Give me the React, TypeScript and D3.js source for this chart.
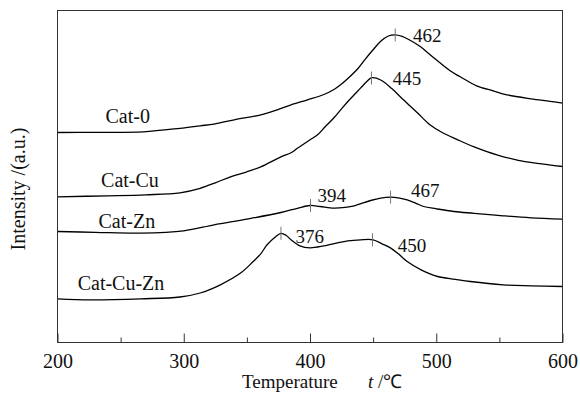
import * as d3 from 'd3';
import { useRef, useEffect } from 'react';

// temperature (°C) / intensity (a.u.)
const cat0: [number, number][] = [
  [200, 210], [230, 210.2], [268, 210.7], [297, 214.2], [313, 216.7], [324, 218.4],
  [340, 222.7], [361, 227.7], [375, 233.2], [385, 237.7], [398, 242.7], [411, 248],
  [419, 253], [424, 257.5], [430, 264], [438, 274], [444, 283.7], [450, 292.7],
  [456, 301.2], [462, 306.5], [467, 307.7], [473, 306.2], [480, 301.7], [487, 296.2],
  [498, 284.7], [511, 271.7], [519, 265.7], [532, 256.7], [545, 251.7], [556, 247.7],
  [575, 243.7], [590, 241.2], [600, 239.4],
];
const catCu: [number, number][] = [
  [200, 145.7], [240, 146.7], [270, 147.7], [297, 149.7], [313, 154.2], [325, 159.7],
  [337, 165.7], [350, 170.7], [361, 175.7], [377, 185.7], [385, 189.7], [390, 194.2],
  [400, 202.7], [406, 207.7], [412, 215.7], [419, 224.7], [425, 233.7], [430, 241],
  [435, 247.7], [440, 254.4], [445, 261], [449, 264.8], [456, 262.5], [465, 253.7],
  [474, 242.7], [485, 229.7], [495, 217.7], [505, 209.7], [517, 202.7], [530, 195.7],
  [548, 187.7], [565, 182.2], [580, 179.2], [600, 176],
];
const catZn: [number, number][] = [
  [200, 111], [230, 110.2], [266, 109.4], [300, 111.7], [324, 117.7], [350, 123.4],
  [377, 130], [390, 134.2], [400, 137], [408, 136], [419, 134.4], [428, 135.2],
  [435, 136.7], [448, 142], [456, 144.4], [464, 145.4], [470, 144.7], [477, 142.7],
  [484, 139.2], [490, 136], [500, 133.7], [514, 131], [530, 129.2], [553, 126.7],
  [575, 124.7], [600, 123.4],
];
const catCuZn: [number, number][] = [
  [200, 43.7], [226, 42.7], [266, 43.7], [297, 45.5], [313, 49.5], [329, 57.7],
  [345, 69.4], [355, 81], [361, 88.7], [366, 97.7], [373, 106], [377, 109.2],
  [381, 107.2], [385, 102.7], [392, 96.7], [400, 94.7], [411, 96.7], [420, 99.2],
  [430, 101.7], [440, 102.7], [450, 102.7], [457, 98.7], [464, 94.4], [470, 88.7],
  [477, 81], [488, 72.7], [501, 66], [515, 63.2], [527, 61], [553, 57.7],
  [575, 56.7], [600, 56],
];

const seriesNames = ['Cat-0', 'Cat-Cu', 'Cat-Zn', 'Cat-Cu-Zn'];
const seriesData = [cat0, catCu, catZn, catCuZn];
const seriesLabelAt: [number, number][] = [[238, 219.5], [234.5, 155.5], [232.5, 114.5], [216, 52.5]];

// peak markers: where the mark sits, and the text printed beside it
const peakSeries = [0, 1, 2, 2, 3, 3];
const peakTemps = [467.5, 448.7, 400.4, 463.8, 377, 449.5];
const peakLabels = ['462', '445', '394', '467', '376', '450'];
const peakLabelAt: [number, number][] = [
  [481.5, 300.5], [465.5, 257.5], [406, 140.5], [480, 145.5], [388.5, 99.5], [469.5, 90.5],
];

const xTicks = [200, 300, 400, 500, 600];
const xMinorTicks = [250, 350, 450, 550];

const W = 580;
const H = 395;
const margin = { top: 10.5, right: 17.5, bottom: 52.5, left: 57.5 };
const font = '"Liberation Serif", "Times New Roman", serif';

const App: React.FC = () => {
  const ref = useRef<SVGSVGElement>(null);

  useEffect(() => {
    if (!ref.current) return;
    const svg = d3.select(ref.current);
    svg.selectAll('*').remove();

    const x = d3.scaleLinear().domain([200, 600]).range([margin.left, W - margin.right]);
    const y = d3.scaleLinear().domain([0, 332]).range([H - margin.bottom, margin.top]);

    const line = d3.line<[number, number]>()
      .x(d => x(d[0]))
      .y(d => y(d[1]))
      .curve(d3.curveCatmullRom.alpha(0.5));

    // curves
    svg.selectAll('.curve')
      .data(seriesData)
      .enter()
      .append('path')
        .attr('class', 'curve')
        .attr('d', d => line(d))
        .attr('fill', 'none')
        .attr('stroke', '#000')
        .attr('stroke-width', 1.3);

    // peak marks
    const valueAt = (s: [number, number][], t: number) => {
      const i = d3.bisector((d: [number, number]) => d[0]).left(s, t);
      const a = s[Math.max(0, i - 1)], b = s[Math.min(s.length - 1, i)];
      if (a[0] === b[0]) return a[1];
      return a[1] + (b[1] - a[1]) * (t - a[0]) / (b[0] - a[0]);
    };
    peakTemps.forEach((t, i) => {
      const v = valueAt(seriesData[peakSeries[i]], t);
      svg.append('line')
        .attr('x1', x(t)).attr('x2', x(t))
        .attr('y1', y(v) - 6.5).attr('y2', y(v) + 6.5)
        .attr('stroke', '#777')
        .attr('stroke-width', 1);
      svg.append('text')
        .attr('x', x(peakLabelAt[i][0]))
        .attr('y', y(peakLabelAt[i][1]))
        .attr('font-family', font)
        .attr('font-size', 19)
        .attr('fill', '#111')
        .text(peakLabels[i]);
    });

    // series names
    svg.selectAll('.series-label')
      .data(seriesNames)
      .enter()
      .append('text')
        .attr('class', 'series-label')
        .attr('x', (_, i) => x(seriesLabelAt[i][0]))
        .attr('y', (_, i) => y(seriesLabelAt[i][1]))
        .attr('font-family', font)
        .attr('font-size', 20)
        .attr('fill', '#111')
        .text(d => d);

    // frame
    svg.append('rect')
      .attr('x', margin.left)
      .attr('y', margin.top)
      .attr('width', W - margin.left - margin.right)
      .attr('height', H - margin.top - margin.bottom)
      .attr('fill', 'none')
      .attr('stroke', '#333')
      .attr('stroke-width', 1);

    // x axis: inward ticks
    const bottom = H - margin.bottom;
    const xAxis = svg.append('g')
      .attr('transform', `translate(0,${bottom})`)
      .call(d3.axisBottom(x).tickValues(xTicks).tickSize(-9).tickPadding(11).tickFormat(d3.format('d')));
    xAxis.select('.domain').remove();
    xAxis.selectAll('line').attr('stroke', '#333');
    xAxis.selectAll('text')
      .attr('font-family', font)
      .attr('font-size', 20)
      .attr('fill', '#111');

    svg.append('g')
      .attr('transform', `translate(0,${bottom})`)
      .call(d3.axisBottom(x).tickValues(xMinorTicks).tickSize(-5).tickFormat(() => ''))
      .call(g => g.select('.domain').remove())
      .selectAll('line').attr('stroke', '#333');

    // axis titles
    const xt = svg.append('text')
      .attr('x', 242)
      .attr('y', 388)
      .attr('font-family', font)
      .attr('font-size', 19)
      .attr('fill', '#111');
    xt.append('tspan').text('Temperature');
    xt.append('tspan').attr('x', 368).attr('font-style', 'italic').text('t');
    xt.append('tspan').text(' /℃');

    svg.append('text')
      .attr('transform', `translate(25,189) rotate(-90)`)
      .attr('text-anchor', 'middle')
      .attr('font-family', font)
      .attr('font-size', 20)
      .attr('fill', '#111')
      .text('Intensity /(a.u.)');
  }, []);

  return (
    <svg
      ref={ref}
      width={W}
      height={H}
      style={{ position: 'absolute', left: 0, top: 0, background: '#fff' }}
    />
  );
};

export default App;
